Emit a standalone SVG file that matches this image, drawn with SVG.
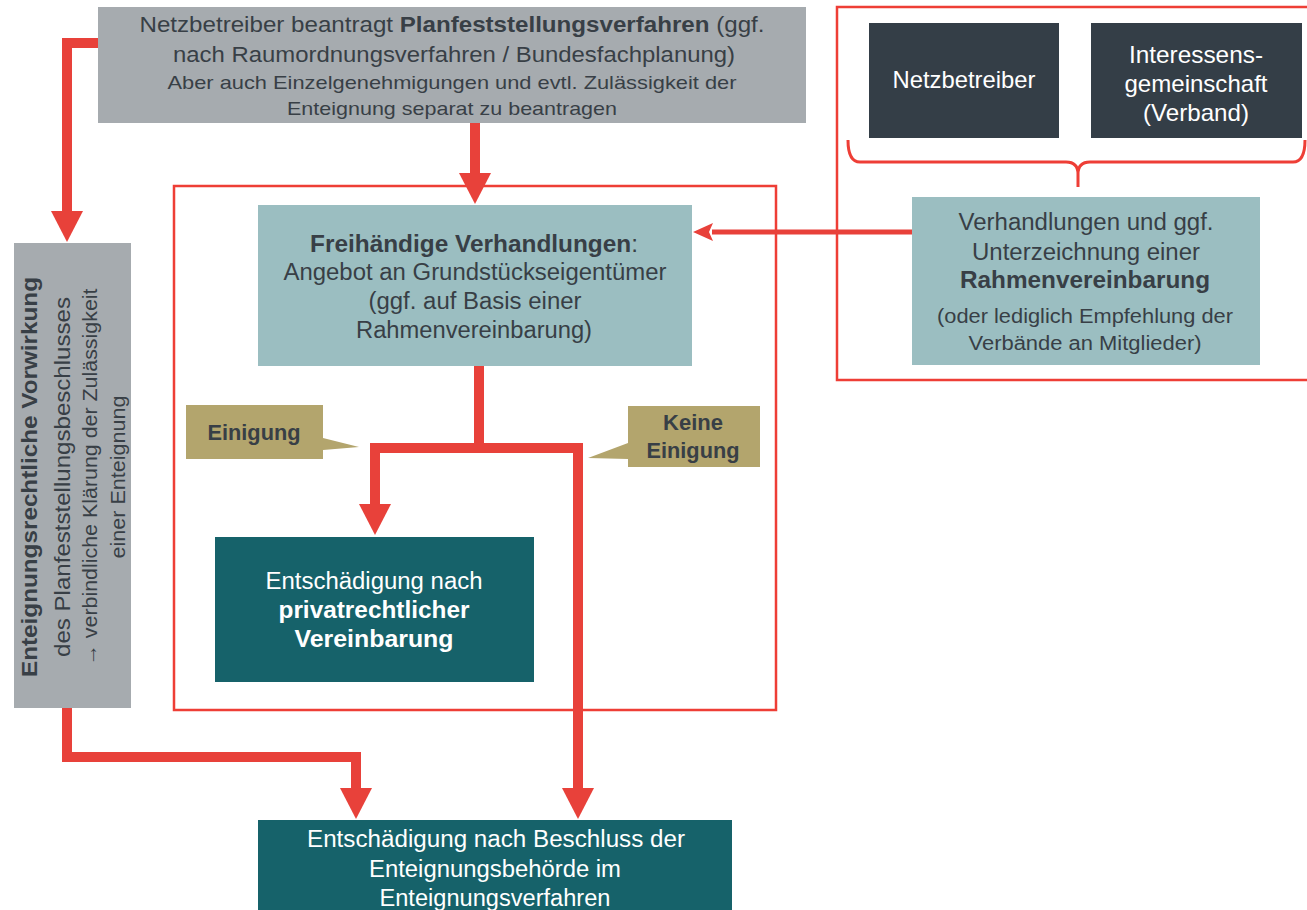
<svg xmlns="http://www.w3.org/2000/svg" width="1307" height="910" viewBox="0 0 1307 910">
<defs>
<style>
.t{font-family:"Liberation Sans",Arial,sans-serif;text-anchor:middle}
.dk{fill:#383f46}
.wh{fill:#ffffff}
.b{font-weight:bold}
.grey{fill:#a6abaf}
.lt{fill:#9bbec1}
.tealdk{fill:#16626a}
.slate{fill:#343e47}
.tan{fill:#b3a56d}
.cont{fill:none;stroke:#ee3e36;stroke-width:2.5}
.con{fill:none;stroke:#e8413a;stroke-width:10;stroke-linejoin:miter}
.thin{fill:none;stroke:#e8413a;stroke-width:5}
</style>
<marker id="ah" markerUnits="userSpaceOnUse" markerWidth="32" markerHeight="32" refX="1" refY="16" orient="auto" viewBox="0 0 32 32">
<path d="M0,0 L31,16 L0,32 Z" fill="#e8413a"/>
</marker>
<marker id="ahs" markerUnits="userSpaceOnUse" markerWidth="22" markerHeight="18" refX="1" refY="9" orient="auto" viewBox="0 0 22 18">
<path d="M0,0 L20,9 L0,18 L4,9 Z" fill="#e8413a"/>
</marker>
</defs>
<rect width="1307" height="910" fill="#ffffff"/>

<g id="containers">
<rect class="cont" x="174" y="186" width="602" height="524"/>
<rect class="cont" x="837" y="7" width="480" height="373"/>
<path d="M848,140 Q848,162 860,162 L1066,162 Q1078,162 1078,174 L1078,187 M1078,174 Q1078,162 1090,162 L1293,162 Q1305,162 1305,140" fill="none" stroke="#ee3e36" stroke-width="3"/>
</g>

<g id="connectors">
<path class="con" d="M475,123 L475,174" marker-end="url(#ah)"/>
<path class="con" d="M98,43 L67,43 L67,212" marker-end="url(#ah)"/>
<path class="con" d="M67,708 L67,757 L356,757 L356,789" marker-end="url(#ah)"/>
<path class="con" d="M479,366 L479,448 L375,448 L375,505" marker-end="url(#ah)"/>
<path class="con" d="M479,448 L578,448 L578,789" marker-end="url(#ah)"/>
<path class="thin" d="M912,232 L712,232" marker-end="url(#ahs)"/>
</g>

<g id="node-antrag">
<rect class="grey" x="98" y="7" width="708" height="116"/>
<text class="t dk" x="452" y="32" font-size="22" textLength="625" lengthAdjust="spacingAndGlyphs">Netzbetreiber beantragt <tspan class="b">Planfeststellungsverfahren</tspan> (ggf.</text>
<text class="t dk" x="454" y="62" font-size="22" textLength="562" lengthAdjust="spacingAndGlyphs">nach Raumordnungsverfahren / Bundesfachplanung)</text>
<text class="t dk" x="452" y="89" font-size="19" textLength="569" lengthAdjust="spacingAndGlyphs">Aber auch Einzelgenehmigungen und evtl. Zulässigkeit der</text>
<text class="t dk" x="452" y="115" font-size="19" textLength="330" lengthAdjust="spacingAndGlyphs">Enteignung separat zu beantragen</text>
</g>

<g id="node-vorwirkung">
<rect class="grey" x="14" y="243" width="117" height="465"/>
<g transform="translate(0,477)">
<text class="t dk b" transform="translate(37,0) rotate(-90)" font-size="22" textLength="400" lengthAdjust="spacingAndGlyphs">Enteignungsrechtliche Vorwirkung</text>
<text class="t dk" transform="translate(70,0) rotate(-90)" font-size="22" textLength="360" lengthAdjust="spacingAndGlyphs">des Planfeststellungsbeschlusses</text>
<text class="t dk" transform="translate(97,0) rotate(-90)" font-size="20" textLength="377" lengthAdjust="spacingAndGlyphs">→ verbindliche Klärung der Zulässigkeit</text>
<text class="t dk" transform="translate(125,0) rotate(-90)" font-size="20" textLength="163" lengthAdjust="spacingAndGlyphs">einer Enteignung</text>
</g>
</g>

<g id="node-freihaendig">
<rect class="lt" x="258" y="205" width="434" height="161"/>
<text class="t dk" x="474" y="252" font-size="23" textLength="328" lengthAdjust="spacingAndGlyphs"><tspan class="b">Freihändige Verhandlungen</tspan>:</text>
<text class="t dk" x="475" y="280" font-size="23" textLength="383" lengthAdjust="spacingAndGlyphs">Angebot an Grundstückseigentümer</text>
<text class="t dk" x="475" y="309" font-size="23" textLength="213" lengthAdjust="spacingAndGlyphs">(ggf. auf Basis einer</text>
<text class="t dk" x="474" y="338" font-size="23" textLength="236" lengthAdjust="spacingAndGlyphs">Rahmenvereinbarung)</text>
</g>

<g id="node-netzbetreiber">
<rect class="slate" x="869" y="23" width="190" height="115"/>
<text class="t wh" x="964" y="88" font-size="24" textLength="143" lengthAdjust="spacingAndGlyphs">Netzbetreiber</text>
</g>

<g id="node-verband">
<rect class="slate" x="1091" y="23" width="211" height="115"/>
<text class="t wh" x="1196" y="63" font-size="24" textLength="134" lengthAdjust="spacingAndGlyphs">Interessens-</text>
<text class="t wh" x="1196" y="92" font-size="24" textLength="143" lengthAdjust="spacingAndGlyphs">gemeinschaft</text>
<text class="t wh" x="1196" y="121" font-size="24" textLength="106" lengthAdjust="spacingAndGlyphs">(Verband)</text>
</g>

<g id="node-rahmen">
<rect class="lt" x="912" y="197" width="348" height="168"/>
<text class="t dk" x="1086" y="230" font-size="23" textLength="255" lengthAdjust="spacingAndGlyphs">Verhandlungen und ggf.</text>
<text class="t dk" x="1086" y="260" font-size="23" textLength="228" lengthAdjust="spacingAndGlyphs">Unterzeichnung einer</text>
<text class="t dk b" x="1085" y="288" font-size="23" textLength="250" lengthAdjust="spacingAndGlyphs">Rahmenvereinbarung</text>
<text class="t dk" x="1085" y="323" font-size="20" textLength="296" lengthAdjust="spacingAndGlyphs">(oder lediglich Empfehlung der</text>
<text class="t dk" x="1085" y="350" font-size="20" textLength="233" lengthAdjust="spacingAndGlyphs">Verbände an Mitglieder)</text>
</g>

<g id="label-einigung">
<path class="tan" d="M186,405 H323 V438 L359,447 L323,450 V459 H186 Z"/>
<text class="t dk b" x="254" y="440" font-size="22" textLength="93" lengthAdjust="spacingAndGlyphs">Einigung</text>
</g>

<g id="label-keine">
<path class="tan" d="M628,406 H760 V467 H628 V459 L588,458 L628,443 Z"/>
<text class="t dk b" x="693" y="430" font-size="22" textLength="60" lengthAdjust="spacingAndGlyphs">Keine</text>
<text class="t dk b" x="693" y="458" font-size="22" textLength="93" lengthAdjust="spacingAndGlyphs">Einigung</text>
</g>

<g id="node-privat">
<rect class="tealdk" x="215" y="537" width="319" height="145"/>
<text class="t wh" x="374" y="589" font-size="23" textLength="217" lengthAdjust="spacingAndGlyphs">Entschädigung nach</text>
<text class="t wh b" x="374" y="618" font-size="23" textLength="191" lengthAdjust="spacingAndGlyphs">privatrechtlicher</text>
<text class="t wh b" x="374" y="647" font-size="23" textLength="159" lengthAdjust="spacingAndGlyphs">Vereinbarung</text>
</g>

<g id="node-beschluss">
<rect class="tealdk" x="258" y="820" width="474" height="95"/>
<text class="t wh" x="496" y="847" font-size="23" textLength="378" lengthAdjust="spacingAndGlyphs">Entschädigung nach Beschluss der</text>
<text class="t wh" x="495" y="877" font-size="23" textLength="252" lengthAdjust="spacingAndGlyphs">Enteignungsbehörde im</text>
<text class="t wh" x="495" y="906" font-size="23" textLength="231" lengthAdjust="spacingAndGlyphs">Enteignungsverfahren</text>
</g>
</svg>
